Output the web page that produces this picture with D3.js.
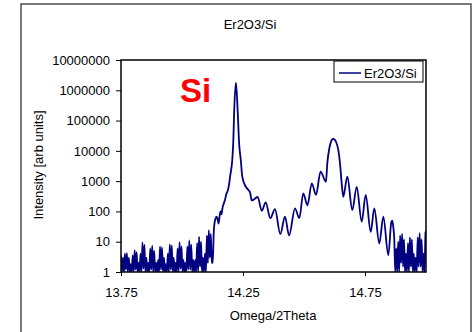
<!DOCTYPE html>
<html>
<head>
<meta charset="utf-8">
<script src="https://cdn.jsdelivr.net/npm/d3@7"></script>
<style>
  html, body { margin: 0; padding: 0; background: #fff; }
  svg { display: block; }
  text { font-family: "Liberation Sans", Arial, sans-serif; }
</style>
</head>
<body>
<svg id="chart" width="475" height="332"></svg>
<script>
// Omega/2Theta scan of Er2O3 on Si: [omega (deg), intensity (arb. units)]
const scan = [
  [13.750, 3.5], [13.754, 1], [13.758, 3], [13.762, 1], [13.766, 4], [13.770, 1.2],
  [13.774, 4.2], [13.778, 1], [13.782, 3], [13.786, 1], [13.790, 1.8], [13.794, 1],
  [13.798, 3.5], [13.802, 1], [13.806, 5.3], [13.810, 1.2], [13.814, 4.5], [13.818, 1],
  [13.822, 2], [13.826, 1], [13.830, 4], [13.834, 1], [13.838, 9.5], [13.842, 1.3],
  [13.846, 8], [13.850, 1], [13.854, 3], [13.858, 1], [13.862, 2], [13.866, 1],
  [13.870, 6], [13.874, 1.2], [13.878, 7.4], [13.882, 1], [13.886, 5], [13.890, 1],
  [13.894, 2], [13.898, 1], [13.902, 2.5], [13.906, 1], [13.910, 7], [13.914, 1.2],
  [13.918, 6.5], [13.922, 1], [13.926, 3], [13.930, 1], [13.934, 1.8], [13.938, 1],
  [13.942, 4], [13.946, 1], [13.950, 8.2], [13.954, 1.2], [13.958, 7.5], [13.962, 1],
  [13.966, 3], [13.970, 1], [13.974, 2], [13.978, 1], [13.982, 6], [13.986, 1],
  [13.990, 9.6], [13.994, 1.3], [13.998, 7], [14.002, 1], [14.006, 2.5], [14.010, 1],
  [14.014, 2], [14.018, 1], [14.022, 7], [14.026, 1.2], [14.030, 11], [14.034, 1.2],
  [14.038, 8], [14.042, 1], [14.046, 2.5], [14.050, 1], [14.054, 2.5], [14.058, 1],
  [14.062, 9], [14.066, 1], [14.070, 14.5], [14.074, 1.5], [14.078, 10], [14.082, 1],
  [14.086, 3], [14.090, 1], [14.094, 4], [14.098, 1], [14.102, 16], [14.106, 2],
  [14.110, 24], [14.114, 3], [14.118, 18], [14.122, 2], [14.126, 2], [14.130, 20],
  [14.134, 45], [14.138, 60], [14.142, 67], [14.146, 55], [14.150, 40], [14.154, 70],
  [14.158, 100], [14.162, 80], [14.166, 130], [14.170, 170], [14.176, 240], [14.182, 380],
  [14.188, 500], [14.194, 900], [14.197, 1400], [14.206, 5000], [14.210, 18000],
  [14.214, 223000], [14.221, 1800000], [14.228, 223000], [14.234, 18000], [14.241, 5000],
  [14.247, 1400], [14.258, 740], [14.272, 510], [14.279, 420], [14.286, 230],
  [14.310, 300], [14.327, 105], [14.343, 200], [14.362, 60], [14.381, 120],
  [14.403, 18], [14.422, 67], [14.439, 16], [14.463, 127], [14.481, 60],
  [14.497, 395], [14.514, 160], [14.532, 850], [14.549, 350], [14.568, 2050],
  [14.590, 950], [14.5955, 3900], [14.6037, 12000], [14.6119, 21500], [14.6160, 24200],
  [14.6201, 25000], [14.6255, 23500], [14.6311, 20000], [14.6406, 10700], [14.6475, 3900],
  [14.6557, 650], [14.6611, 305],
  [14.6775, 1400], [14.698, 111], [14.716, 650], [14.7365, 46], [14.7529, 350],
  [14.7734, 21], [14.7881, 127], [14.8086, 8.8], [14.825, 67], [14.8455, 3.6],
  [14.858, 45], [14.862, 50], [14.866, 30], [14.870, 12], [14.874, 1], [14.878, 6],
  [14.882, 1], [14.886, 10], [14.890, 1], [14.894, 16], [14.898, 2], [14.902, 18],
  [14.906, 1.5], [14.910, 12], [14.914, 1], [14.918, 4], [14.922, 1], [14.926, 9],
  [14.930, 1], [14.934, 14], [14.938, 1.5], [14.942, 12], [14.946, 1], [14.950, 4],
  [14.954, 1], [14.958, 3], [14.962, 1], [14.966, 14], [14.970, 1.5], [14.974, 19],
  [14.978, 1.5], [14.982, 12], [14.986, 1], [14.990, 4], [14.994, 1], [14.998, 20],
  [15.002, 24]
];

const xTicks = [13.75, 14.25, 14.75];
const yTicks = [1, 10, 100, 1000, 10000, 100000, 1000000, 10000000];
const chartTitle = "Er2O3/Si";
const seriesName = "Er2O3/Si";
const xTitle = "Omega/2Theta";
const yTitle = "Intensity [arb units]";
const peakLabel = "Si";

const svg = d3.select("#chart");
const plot = { left: 121, top: 60, right: 426, bottom: 272 };

// outer chart frame
svg.append("rect")
  .attr("x", 21).attr("y", 4).attr("width", 450).attr("height", 340)
  .attr("fill", "#fff").attr("stroke", "#333").attr("stroke-width", 1.3);

const x = d3.scaleLinear().domain([13.75, 15.0]).range([plot.left, plot.right]);
const y = d3.scaleLog().domain([1, 1e7]).range([plot.bottom, plot.top]);

svg.append("defs").append("clipPath").attr("id", "plotClip")
  .append("rect")
  .attr("x", plot.left).attr("y", plot.top)
  .attr("width", plot.right - plot.left).attr("height", plot.bottom - plot.top);

// axes
const yAxis = d3.axisLeft(y).tickValues(yTicks).tickFormat(d3.format("d"))
  .tickSize(5).tickPadding(6);
const xAxis = d3.axisBottom(x).tickValues(xTicks).tickFormat(d3.format(".2f"))
  .tickSize(4).tickPadding(12);

const gy = svg.append("g").attr("transform", `translate(${plot.left},0)`).call(yAxis);
const gx = svg.append("g").attr("transform", `translate(0,${plot.bottom})`).call(xAxis);
[gx, gy].forEach(g => {
  g.select(".domain").remove();
  g.selectAll(".tick line").attr("stroke", "#000").attr("stroke-width", 1);
  g.selectAll(".tick text").attr("fill", "#000")
    .style("font-family", "'Liberation Sans', Arial, sans-serif")
    .style("font-size", "13px");
});

// data curve
const line = d3.line()
  .x(d => x(d[0]))
  .y(d => y(Math.max(d[1], 0.5)))
  .curve(d3.curveMonotoneX);

svg.append("path")
  .datum(scan)
  .attr("clip-path", "url(#plotClip)")
  .attr("fill", "none")
  .attr("stroke", "#000080")
  .attr("stroke-width", 1.8)
  .attr("stroke-linejoin", "round")
  .attr("d", line);

// plot area border
svg.append("rect")
  .attr("x", plot.left).attr("y", plot.top)
  .attr("width", plot.right - plot.left).attr("height", plot.bottom - plot.top)
  .attr("fill", "none").attr("stroke", "#000").attr("stroke-width", 1.5);

// titles
svg.append("text").attr("x", 250).attr("y", 29).attr("text-anchor", "middle")
  .style("font-size", "13px").text(chartTitle);
svg.append("text").attr("x", 273).attr("y", 320).attr("text-anchor", "middle")
  .style("font-size", "13px").text(xTitle);
svg.append("text").attr("transform", "translate(43,165) rotate(-90)")
  .attr("text-anchor", "middle").style("font-size", "13px").text(yTitle);

// peak annotation
svg.append("text").attr("x", 180).attr("y", 102)
  .attr("fill", "#ff0000").style("font-size", "33px").style("font-weight", "bold")
  .text(peakLabel);

// legend
const lg = svg.append("g");
lg.append("rect").attr("x", 334).attr("y", 61).attr("width", 89).attr("height", 21)
  .attr("fill", "#fff").attr("stroke", "#000").attr("stroke-width", 1);
lg.append("line").attr("x1", 339).attr("x2", 361).attr("y1", 73).attr("y2", 73)
  .attr("stroke", "#000080").attr("stroke-width", 1.5);
lg.append("text").attr("x", 364).attr("y", 77.5).style("font-size", "13px").text(seriesName);
</script>
</body>
</html>
